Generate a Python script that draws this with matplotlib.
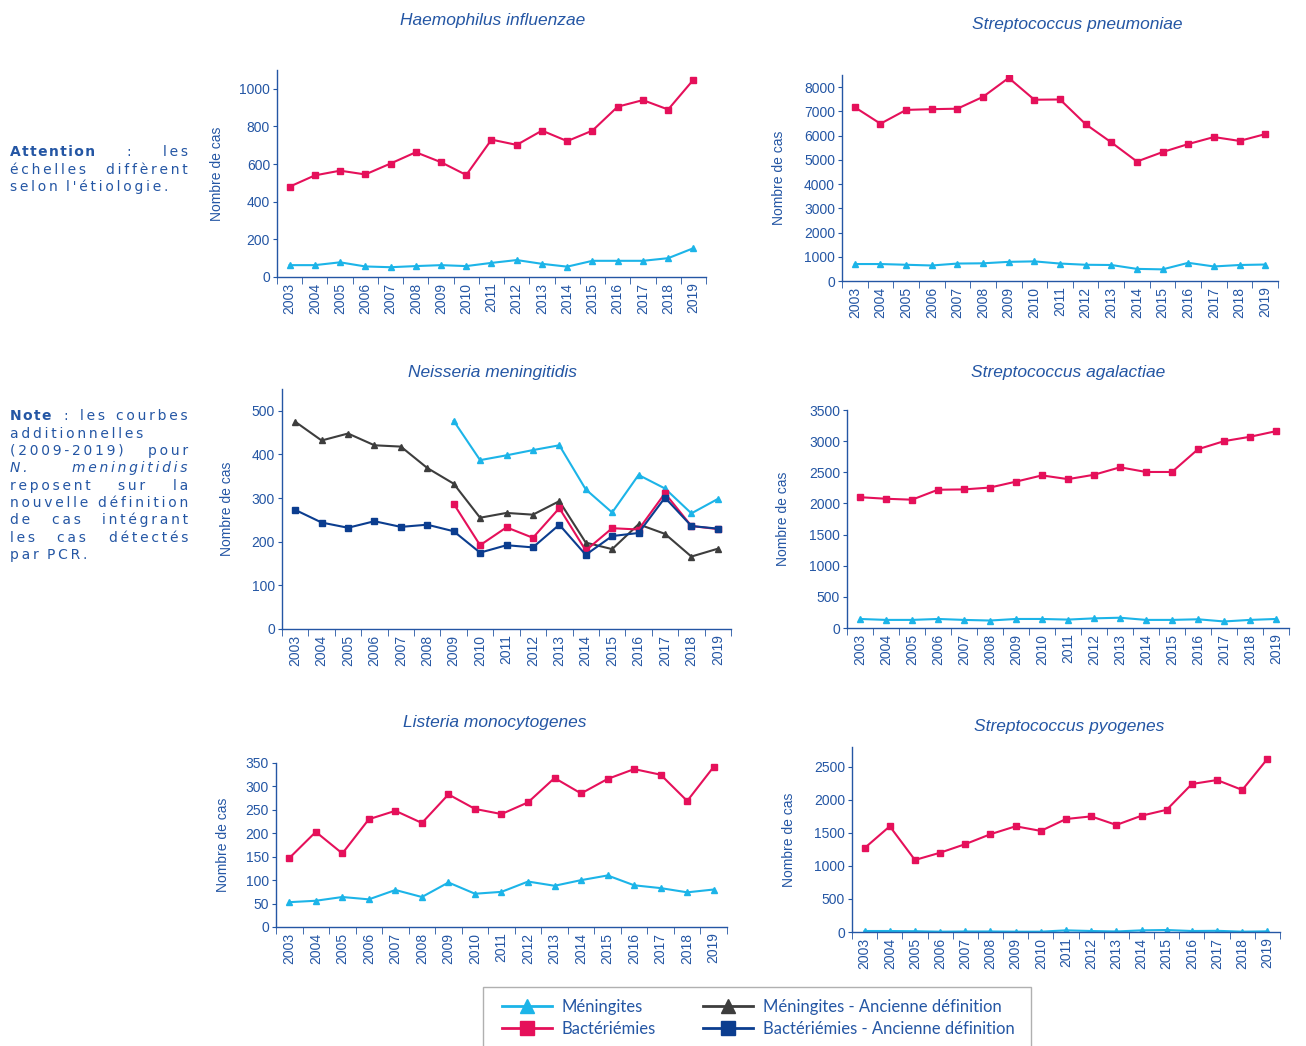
import numpy as np
import matplotlib
matplotlib.use("Agg")
from matplotlib import pyplot as plt
from matplotlib.lines import Line2D
from matplotlib.patches import Rectangle

years = [str(y) for y in range(2003, 2020)]

# Haemophilus influenzae
hi_bact = [480, 540, 565, 545, 603, 663, 610, 542, 730, 702, 778, 722, 778, 905, 940, 890, 1048]
hi_men = [63, 63, 78, 56, 52, 58, 63, 58, 75, 90, 70, 55, 86, 86, 86, 100, 153]

# Streptococcus pneumoniae
sp_bact = [7170, 6490, 7060, 7090, 7110, 7600, 8380, 7480, 7490, 6470, 5720, 4930, 5320, 5650, 5940, 5780, 6060]
sp_men = [700, 700, 670, 640, 720, 730, 790, 810, 720, 670, 660, 500, 480, 750, 600, 660, 680]

# Neisseria meningitidis (ancienne definition 2003-2019, nouvelle 2009-2019)
nm_men_old = [475, 432, 448, 421, 418, 369, 333, 255, 266, 262, 293, 198, 183, 240, 218, 166, 184]
nm_bact_old = [273, 244, 232, 247, 234, 239, 224, 175, 192, 187, 239, 170, 213, 220, 301, 236, 230]
nm_men_new = [477, 387, 398, 410, 421, 320, 267, 353, 322, 265, 298]
nm_bact_new = [287, 192, 233, 209, 277, 180, 231, 228, 311, 236, 229]

# Streptococcus agalactiae
sa_bact = [2100, 2075, 2060, 2220, 2225, 2255, 2350, 2450, 2390, 2460, 2580, 2505, 2505, 2870, 3000, 3070, 3160]
sa_men = [145, 130, 130, 145, 130, 120, 145, 145, 135, 155, 165, 130, 130, 140, 105, 130, 145]

# Listeria monocytogenes
lm_bact = [147, 203, 157, 230, 248, 222, 283, 252, 241, 266, 318, 285, 316, 337, 325, 269, 342]
lm_men = [53, 56, 64, 59, 79, 64, 95, 71, 75, 97, 88, 100, 110, 89, 83, 74, 80]

# Streptococcus pyogenes
spy_bact = [1270, 1600, 1090, 1200, 1330, 1480, 1600, 1530, 1710, 1750, 1620, 1760, 1850, 2240, 2300, 2150, 2620]
spy_men = [15, 15, 12, 5, 8, 8, 5, 5, 25, 15, 8, 25, 30, 15, 18, 5, 10]

CYAN = '#1cb4e8'
PINK = '#e5105a'
GREY = '#3d3d3d'
NAVY = '#0b3d8f'
TXT = '#2456a4'

plt.rcParams['font.family'] = ['Liberation Sans', 'DejaVu Sans']

W, H = 1306, 1046
fig = plt.figure(figsize=(W / 100, H / 100), dpi=100)


def make_ax(l, t, r, b, ymax, step, title, tx, ty, ylx):
    ax = fig.add_axes([l / W, 1 - b / H, (r - l) / W, (b - t) / H])
    ax.set_xlim(-0.5, 16.5)
    ax.set_ylim(0, ymax)
    ax.set_yticks(np.arange(0, ymax + 1, step))
    ax.set_xticks(np.arange(17))
    ax.set_xticklabels(years, rotation=90)
    ax.set_xticks(np.arange(-0.5, 17, 1), minor=True)
    ax.tick_params(axis='x', which='major', length=0, pad=4, labelsize=10, labelcolor=TXT)
    ax.tick_params(axis='x', which='minor', length=5, color=TXT, direction='out')
    ax.tick_params(axis='y', length=3, color=TXT, labelsize=10, labelcolor=TXT, pad=2)
    for s in ['top', 'right']:
        ax.spines[s].set_visible(False)
    for s in ['left', 'bottom']:
        ax.spines[s].set_color(TXT)
        ax.spines[s].set_linewidth(1)
    ax.set_ylabel('Nombre de cas', color=TXT, fontsize=10)
    ax.yaxis.set_label_coords((ylx - l) / (r - l), 0.5)
    fig.text(tx / W, 1 - ty / H, title, color=TXT, style='italic', fontsize=12.5,
             ha='center', va='center')
    return ax


def two_lines(ax, bact, men):
    x = np.arange(17)
    ax.plot(x, men, color=CYAN, marker='^', ms=4, lw=1.5)
    ax.plot(x, bact, color=PINK, marker='s', ms=4, lw=1.5)


ax1 = make_ax(277, 70, 706, 277, 1100, 200, 'Haemophilus influenzae', 493, 20, 224)
two_lines(ax1, hi_bact, hi_men)

ax2 = make_ax(842, 75, 1278, 281, 8500, 1000, 'Streptococcus pneumoniae', 1077, 25, 786)
two_lines(ax2, sp_bact, sp_men)

ax3 = make_ax(282, 389, 731, 629, 550, 100, 'Neisseria meningitidis', 492, 372, 234)
x = np.arange(17)
xn = np.arange(6, 17)
ax3.plot(x, nm_men_old, color=GREY, marker='^', ms=4, lw=1.5)
ax3.plot(xn, nm_men_new, color=CYAN, marker='^', ms=4, lw=1.5)
ax3.plot(xn, nm_bact_new, color=PINK, marker='s', ms=4, lw=1.5)
ax3.plot(x, nm_bact_old, color=NAVY, marker='s', ms=4, lw=1.5)

ax4 = make_ax(847, 410, 1289, 628, 3500, 500, 'Streptococcus agalactiae', 1068, 373, 790)
two_lines(ax4, sa_bact, sa_men)

ax5 = make_ax(276, 763, 727, 927, 350, 50, 'Listeria monocytogenes', 495, 722, 230)
two_lines(ax5, lm_bact, lm_men)

ax6 = make_ax(852, 747, 1280, 932, 2800, 500, 'Streptococcus pyogenes', 1069, 726, 796)
ax6.set_yticks(np.arange(0, 2501, 500))
two_lines(ax6, spy_bact, spy_men)


# side notes: wide letter spacing, justified between x0 and x1
def spaced(word, sep='\u2009'):
    return sep.join(word)


note_lines = []


def justify(words, y, styles=None, last=False):
    styles = styles or [{}] * len(words)
    txts = []
    for w, st in zip(words, styles):
        sep = '\u200a' if st.get('fontweight') == 'bold' else '\u2009'
        txts.append(fig.text(0, 1 - y / H, spaced(w, sep), color=TXT, fontsize=10,
                             family='DejaVu Sans', ha='left', va='center', **st))
    note_lines.append((txts, last))


bold = {'fontweight': 'bold'}
ital = {'style': 'italic'}
justify(['Attention', ':', 'les'], 152, styles=[bold, {}, {}])
justify(['échelles', 'diffèrent'], 170)
justify(['selon', "l'étiologie."], 187, last=True)

justify(['Note', ':', 'les', 'courbes'], 416, styles=[bold, {}, {}, {}])
justify(['additionnelles'], 434, last=True)
justify(['(2009-2019)', 'pour'], 451)
justify(['N.', 'meningitidis'], 468, styles=[ital, ital])
justify(['reposent', 'sur', 'la'], 486)
justify(['nouvelle', 'définition'], 503)
justify(['de', 'cas', 'intégrant'], 520)
justify(['les', 'cas', 'détectés'], 538)
justify(['par', 'PCR.'], 555, last=True)

renderer = fig.canvas.get_renderer()
x0, x1 = 10, 188
for txts, last in note_lines:
    widths = [t.get_window_extent(renderer).width for t in txts]
    if last or len(txts) == 1:
        gap = 8
    else:
        gap = (x1 - x0 - sum(widths)) / (len(txts) - 1)
    xp = x0
    for t, w in zip(txts, widths):
        t.set_x(xp / W)
        xp += w + gap

# legend with its box running off the bottom edge
fig.patches.append(Rectangle((483 / W, -0.01), (1031 - 483) / W, 0.01 + 1 - 987 / H,
                             transform=fig.transFigure, fill=False,
                             edgecolor='#b0b0b0', lw=1))
handles = [
    Line2D([], [], color=CYAN, marker='^', ms=10, lw=2),
    Line2D([], [], color=PINK, marker='s', ms=10, lw=2),
    Line2D([], [], color=GREY, marker='^', ms=10, lw=2),
    Line2D([], [], color=NAVY, marker='s', ms=10, lw=2),
]
labels = ['Méningites', 'Bactériémies',
          'Méningites - Ancienne définition', 'Bactériémies - Ancienne définition']
leg = fig.legend(handles, labels, ncol=2, loc='center', bbox_to_anchor=(758 / W, 1 - 1018 / H),
                 frameon=False, handlelength=3.0, handletextpad=0.6, columnspacing=2.8,
                 labelspacing=0.35, prop={'family': ['Lato', 'DejaVu Sans'], 'size': 12})
for t in leg.get_texts():
    t.set_color(TXT)

fig.savefig('out.png', dpi=100)
